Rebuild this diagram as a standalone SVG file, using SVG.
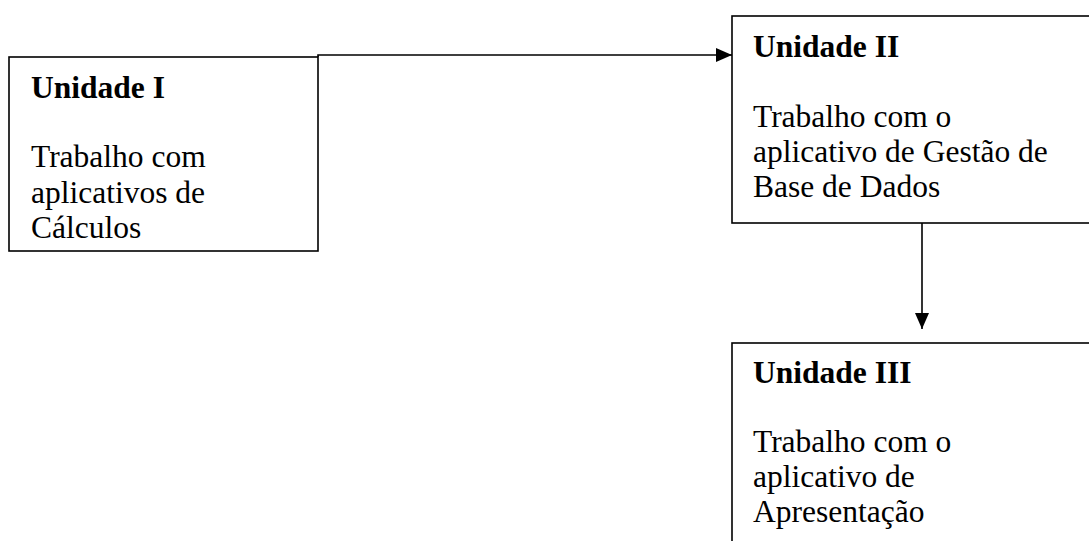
<svg xmlns="http://www.w3.org/2000/svg" width="1089" height="541" viewBox="0 0 1089 541">
<style>
.box{fill:#fff;stroke:#000;stroke-width:1.6}
.conn{fill:none;stroke:#000;stroke-width:1.6}
text{font-family:"Liberation Serif","Times New Roman",serif;font-size:31.5px;fill:#000}
.h{font-weight:bold}
</style>
<defs>
<marker id="ah" markerUnits="userSpaceOnUse" markerWidth="16" markerHeight="14" refX="16" refY="7" orient="auto">
<path d="M0,0 L16,7 L0,14 z" fill="#000"/>
</marker>
</defs>
<rect width="1089" height="541" fill="#fff"/>
<g id="connectors">
<path class="conn" d="M318,57 L318,55 L732,55" marker-end="url(#ah)"/>
<path class="conn" d="M922,223 L922,329" marker-end="url(#ah)"/>
</g>
<g id="unidade1">
<rect class="box" x="9" y="57" width="309" height="194"/>
<text class="h" x="31" y="98">Unidade I</text>
<text x="31" y="167">Trabalho com</text>
<text x="31" y="203">aplicativos de</text>
<text x="31" y="238">Cálculos</text>
</g>
<g id="unidade2">
<rect class="box" x="732" y="16" width="370" height="207"/>
<text class="h" x="753" y="57">Unidade II</text>
<text x="753" y="127">Trabalho com o</text>
<text x="753" y="162">aplicativo de Gestão de</text>
<text x="753" y="197">Base de Dados</text>
</g>
<g id="unidade3">
<rect class="box" x="732" y="343" width="370" height="220"/>
<text class="h" x="753" y="383">Unidade III</text>
<text x="753" y="452">Trabalho com o</text>
<text x="753" y="487">aplicativo de</text>
<text x="753" y="522">Apresentação</text>
</g>
</svg>
